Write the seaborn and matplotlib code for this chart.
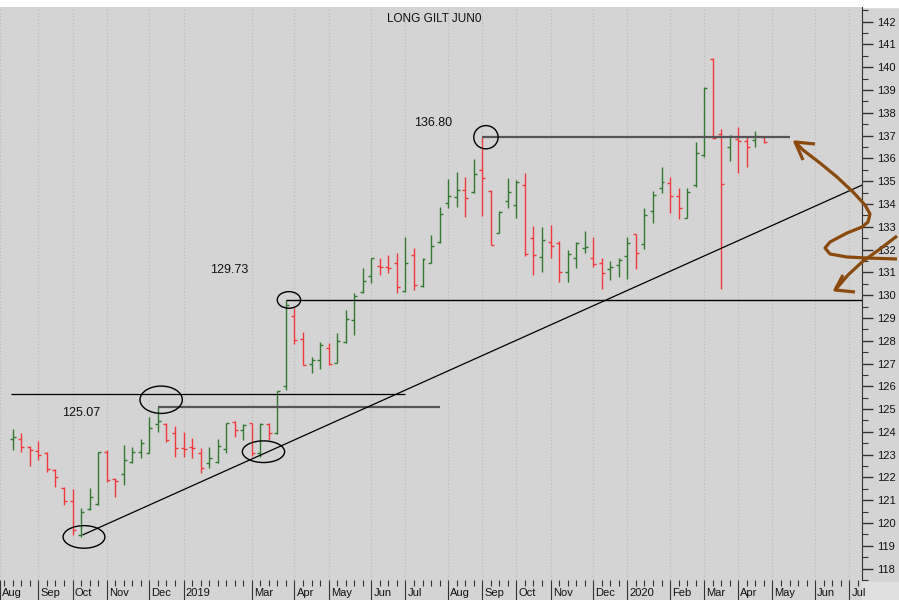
# Long Gilt Jun0 weekly bar chart with support/resistance notes

import numpy as np
import pandas as pd
import seaborn as sns
import matplotlib.pyplot as plt
from matplotlib.patches import Ellipse, Rectangle
from matplotlib.lines import Line2D
import matplotlib.transforms as mtransforms
from matplotlib.ticker import MultipleLocator

# weekly bars, week 0 = w/e 17 Aug 2018
opens = [123.68, 123.68, 123.34, 123.18, 123.09, 122.33, 121.53, 120.98, 119.48, 120.60,
         120.82, 123.13, 121.92, 122.15, 122.69, 123.13, 123.09, 124.35, 124.35, 123.94,
         123.28, 123.35, 123.06, 122.65, 122.69, 123.24, 124.45, 124.08, 124.38, 123.06,
         124.35, 123.94, 126.01, 129.10, 128.06, 126.98, 127.16, 127.67, 127.01, 127.95,
         128.91, 130.15, 130.84, 131.28, 131.22, 131.43, 130.18, 131.76, 130.40, 131.43,
         132.35, 134.06, 134.29, 134.62, 134.54, 135.49, 134.59, 132.74, 134.15, 133.96,
         134.83, 132.52, 131.69, 132.35, 132.30, 131.03, 131.64, 132.06, 131.62, 131.43,
         131.15, 131.32, 131.72, 132.67, 132.25, 133.71, 134.72, 134.91, 134.35, 133.40,
         134.83, 136.15, 140.35, 137.07, 136.52, 136.85, 136.78, 136.81, 136.93]
highs = [124.11, 123.94, 123.40, 123.60, 123.13, 122.36, 121.57, 121.48, 120.65, 121.53,
         123.13, 123.21, 121.96, 123.43, 123.35, 123.67, 124.65, 125.11, 124.39, 124.26,
         124.00, 123.72, 123.31, 123.35, 123.68, 124.40, 124.49, 124.35, 124.38, 124.40,
         124.38, 125.80, 129.79, 129.42, 128.40, 127.30, 127.95, 127.91, 128.35, 129.35,
         130.11, 131.18, 131.64, 131.62, 131.76, 131.84, 132.54, 132.06, 131.62, 132.64,
         133.88, 135.08, 135.42, 135.20, 135.96, 136.95, 134.62, 133.69, 135.13, 135.05,
         135.35, 133.03, 133.00, 133.08, 132.38, 131.98, 132.32, 132.83, 132.57, 131.62,
         131.51, 131.62, 132.57, 132.67, 133.81, 134.59, 135.61, 135.20, 134.69, 134.69,
         136.73, 139.12, 140.39, 137.28, 137.03, 137.37, 137.00, 137.20, 136.98]
lows = [123.21, 123.13, 122.50, 122.77, 122.25, 121.57, 120.79, 119.48, 119.40, 120.57,
        120.79, 121.81, 121.16, 121.67, 122.62, 122.86, 123.07, 124.00, 123.57, 122.91,
        122.91, 122.84, 122.21, 122.40, 122.62, 123.06, 123.79, 123.65, 122.94, 122.91,
        123.65, 123.90, 125.84, 127.86, 126.94, 126.60, 126.77, 126.94, 127.01, 127.91,
        128.25, 130.11, 130.55, 130.89, 130.99, 130.11, 130.15, 130.23, 130.37, 131.40,
        132.30, 133.81, 133.88, 133.44, 134.47, 133.47, 132.20, 132.71, 133.81, 133.37,
        131.72, 130.89, 131.03, 131.62, 130.59, 130.59, 131.18, 131.86, 131.22, 130.26,
        130.67, 130.81, 130.70, 131.14, 132.03, 133.15, 134.47, 133.62, 133.33, 133.37,
        134.73, 136.08, 136.84, 130.26, 135.90, 135.37, 135.61, 136.49, 136.69]
closes = [123.76, 123.35, 123.21, 122.99, 122.36, 122.03, 120.98, 119.70, 120.47, 121.13,
          123.13, 121.89, 121.85, 122.77, 123.13, 123.50, 124.16, 124.48, 123.65, 123.28,
          123.24, 123.31, 122.40, 122.84, 123.38, 124.38, 124.08, 124.30, 123.06, 124.35,
          123.94, 125.80, 129.57, 128.03, 126.94, 127.16, 127.81, 126.98, 127.99, 128.94,
          129.96, 130.64, 131.62, 131.25, 131.18, 130.37, 131.43, 130.45, 131.57, 132.16,
          133.56, 134.35, 134.62, 134.25, 135.32, 135.13, 132.20, 133.66, 134.54, 134.98,
          131.81, 131.76, 132.42, 132.16, 131.00, 131.81, 132.28, 132.10, 131.37, 130.96,
          131.24, 131.54, 132.28, 131.84, 133.52, 134.40, 134.98, 134.35, 133.81, 134.51,
          136.23, 139.10, 136.88, 134.88, 136.98, 136.76, 136.49, 136.98, 136.71]

# month separators on the week scale (Feb 2019 has no label on the original,
# Aug 2018 sits at the left page edge)
month_weeks = [-1.5, 3, 7, 11, 16, 20, 28, 33, 37, 42, 46, 51, 55, 59, 63, 68, 72, 77, 81, 85, 89, 94, 98]
month_labels = ['Aug', 'Sep', 'Oct', 'Nov', 'Dec', '2019', 'Mar', 'Apr', 'May', 'Jun', 'Jul', 'Aug',
                'Sep', 'Oct', 'Nov', 'Dec', '2020', 'Feb', 'Mar', 'Apr', 'May', 'Jun', 'Jul']
price_ticks = list(range(118, 143))

# horizontal levels: value, first week, last week
level_values = [125.65, 125.11, 129.79, 136.95]
level_start = [-0.2, 17, 32, 55]
level_end = [46, 50, 99.5, 91.1]
level_labels = ['125.07', '129.73', '136.80']
label_weeks = [8.0, 25.3, 49.3]
label_prices = [124.81, 131.10, 137.55]

# trend line through the Oct 2018 low
trend_weeks = [8.2, 99.5]
trend_prices = [119.48, 134.83]

# circled turning points: week, price, width (weeks), height (points)
circle_weeks = [8.34, 17.38, 29.37, 32.35, 55.43]
circle_prices = [119.39, 125.41, 123.13, 129.79, 136.93]
circle_w = [4.9, 4.96, 4.95, 2.73, 2.85]
circle_h = [0.99, 1.2, 0.95, 0.73, 1.02]

# hand drawn brown arrows (pixel positions on the 899x600 page)
stroke1 = [(795, 142), (803, 150), (820, 163), (837, 177), (853, 192), (865, 205), (870, 214),
           (868, 222), (862, 227), (847, 233), (830, 242), (825, 248), (830, 254), (847, 257),
           (867, 258), (897, 259)]
head1 = [(815, 144), (795, 142), (803, 160)]
stroke2 = [(897, 236), (880, 249), (862, 262), (848, 275), (836, 289)]
head2 = [(843, 275), (835, 290), (855, 292)]

sns.set_style('ticks')
plt.rcParams['font.family'] = ['Liberation Sans', 'DejaVu Sans']
plt.rcParams['savefig.bbox'] = 'standard'

bg = '#d4d4d4'
green = '#2f7a2f'
red = '#f03a3a'

W, H = 899, 600
fig = plt.figure(figsize=(W / 100, H / 100), dpi=100, facecolor=bg)
ax = fig.add_axes([0, 20 / H, 862 / W, 573 / H])
ax.set_facecolor(bg)

df = pd.DataFrame({'week': np.arange(len(opens)), 'open': opens, 'high': highs,
                   'low': lows, 'close': closes})
df['col'] = np.where(df['close'] >= df['open'], green, red)

# weekly bars
tw = 0.35
ax.vlines(df['week'], df['low'], df['high'], colors=df['col'], lw=1.0, zorder=3)
ax.hlines(df['open'], df['week'] - tw, df['week'], colors=df['col'], lw=1.0, zorder=3)
ax.hlines(df['close'], df['week'], df['week'] + tw, colors=df['col'], lw=1.0, zorder=3)

# levels
lv_style = [('black', 0.9), ('#555555', 1.6), ('black', 1.0), ('#555555', 1.6)]
for v, a, b, (c, lw) in zip(level_values, level_start, level_end, lv_style):
    ax.hlines(v, a, b, colors=c, lw=lw, zorder=4)

for t, x, y in zip(level_labels, label_weeks, label_prices):
    ax.text(x, y, t, ha='center', va='center', fontsize=9, color='#111111')

trend = pd.DataFrame({'week': trend_weeks, 'price': trend_prices})
sns.lineplot(data=trend, x='week', y='price', color='black', lw=0.9, ax=ax, zorder=4)

for x, y, w, h in zip(circle_weeks, circle_prices, circle_w, circle_h):
    ax.add_patch(Ellipse((x, y), w, h, fill=False, ec='black', lw=1.0, zorder=5))

# axes and scales
ax.set_xlim(-1.381, 99.49)
ax.set_ylim(117.50, 142.645)
ax.set_xlabel('')
ax.set_ylabel('')
for s in ['left', 'top', 'bottom']:
    ax.spines[s].set_visible(False)
ax.spines['right'].set_color('#333333')
ax.spines['right'].set_linewidth(0.8)

ax.yaxis.tick_right()
ax.set_yticks(price_ticks)
ax.set_yticklabels([str(p) for p in price_ticks])
ax.yaxis.set_minor_locator(MultipleLocator(0.5))
ax.tick_params(axis='y', which='major', length=8, width=1, color='#333333', pad=3,
               labelsize=8, labelcolor='#111111')
ax.tick_params(axis='y', which='minor', length=4, width=0.8, color='#333333')

ax.set_xticks(month_weeks)
ax.set_xticklabels([''] * len(month_weeks))
ax.set_xticks(np.arange(-1, 100), minor=True)
ax.tick_params(axis='x', which='major', length=18, width=0.8, color='#333333')
ax.tick_params(axis='x', which='minor', length=4, width=0.8, color='#333333')
ax.grid(axis='x', which='major', linestyle=':', color='#bdbdbd', lw=0.9)
ax.grid(axis='y', visible=False)

# month names sit right of each separator
trans = mtransforms.blended_transform_factory(ax.transData, ax.transAxes)
for x, t in zip(month_weeks, month_labels):
    ax.text(x + 0.25, -0.0235, t, transform=trans, ha='left', va='center', fontsize=8,
            color='#111111', clip_on=False)

# page decorations
fig.add_artist(Rectangle((0, 1 - 7 / H), 1, 7 / H, transform=fig.transFigure,
                         color='white', zorder=0))
fig.add_artist(Rectangle((862 / W, 0), 37 / W, 18 / H, transform=fig.transFigure,
                         color='#e0e0e0', zorder=0))
fig.text(434 / W, 1 - 19 / H, 'LONG GILT JUN0', ha='center', va='center', fontsize=8.5,
         color='#111111')

brown = '#8a4a0e'
for pts in [stroke1, head1, stroke2, head2]:
    xs = [p[0] / W for p in pts]
    ys = [1 - p[1] / H for p in pts]
    fig.add_artist(Line2D(xs, ys, transform=fig.transFigure, color=brown, lw=2.3,
                          solid_capstyle='butt', solid_joinstyle='round', zorder=10))

fig.savefig('out.png', dpi=100, facecolor=bg)
